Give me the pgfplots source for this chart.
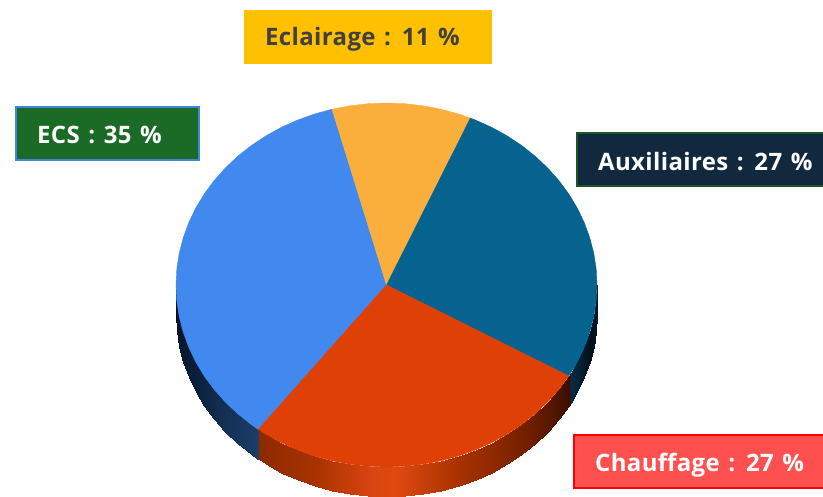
\documentclass[border=0pt]{standalone}
\usepackage{fontspec}
\setmainfont{Open Sans}[LetterSpace=1.5, WordSpace=1.3]
\usepackage{pgfplots}
\pgfplotsset{compat=1.18}
\definecolor{ecsc}{HTML}{4189EE}
\definecolor{eclc}{HTML}{FAAE3C}
\definecolor{auxc}{HTML}{06638F}
\definecolor{chac}{HTML}{DF4006}
\begin{document}
\begin{tikzpicture}
\begin{axis}[
    name=pie,
    width=823bp, height=497bp, scale only axis,
    xmin=0, xmax=823, ymin=0, ymax=497,
    y dir=reverse,
    hide axis,
    point meta min=180, point meta max=360,
    colormap={pieside}{
        rgb255(180)=(4,16,31) rgb255(205)=(10,31,61) rgb255(232)=(27,61,104)
        rgb255(233)=(140,42,0) rgb255(250)=(168,50,0) rgb255(266)=(216,69,16)
        rgb255(272)=(224,74,16) rgb255(290)=(168,50,0) rgb255(315)=(106,28,0)
        rgb255(330)=(58,14,0) rgb255(331)=(10,42,68) rgb255(345)=(3,16,30)
        rgb255(360)=(10,26,44)
    },
]
% side of the disc
\addplot[surf, shader=interp, mesh/rows=2, point meta=explicit] table[x=x, y=y, meta=t] {
t x y
180 176 285
185 176.8 300.9
190 179.2 316.6
195 183.2 332.1
200 188.7 347.2
205 195.7 361.9
210 204.2 376
215 214.1 389.4
220 225.3 402
225 237.7 413.7
230 251.2 424.4
232 257 429
233 259.5 430
235 265.8 434.1
240 281.2 442.6
245 297.5 449.9
250 314.5 456
255 332 460.8
260 349.9 464.2
265 368.1 466.3
270 386.5 467
275 404.9 466.3
280 423.1 464.2
285 441 460.8
290 458.5 456
295 475.5 449.9
300 491.8 442.6
305 507.2 434.1
310 521.8 424.4
315 535.3 413.7
320 547.7 402
325 558.9 389.4
330 568.8 376
331 570.5 373
335 577.3 361.9
340 584.3 347.2
345 589.8 332.1
350 593.8 316.6
355 596.2 300.9
360 597 285
180 176 315
185 176.8 330.9
190 179.2 346.6
195 183.2 362.1
200 188.7 377.2
205 195.7 391.9
210 204.2 406
215 214.1 419.4
220 225.3 432
225 237.7 443.7
230 251.2 454.4
232 257 459
233 259.5 460
235 265.8 464.1
240 281.2 472.6
245 297.5 479.9
250 314.5 486
255 332 490.8
260 349.9 494.2
265 368.1 496.3
270 386.5 497
275 404.9 496.3
280 423.1 494.2
285 441 490.8
290 458.5 486
295 475.5 479.9
300 491.8 472.6
305 507.2 464.1
310 521.8 454.4
315 535.3 443.7
320 547.7 432
325 558.9 419.4
330 568.8 406
331 570.5 403
335 577.3 391.9
340 584.3 377.2
345 589.8 362.1
350 593.8 346.6
355 596.2 330.9
360 597 315
};
% top wedges
\addplot[fill=ecsc, draw=ecsc, line width=0.4pt] coordinates {
(386.5,285) (332,109.2) (314.5,114) (297.5,120.1) (281.2,127.4) (265.8,135.9) (251.2,145.6)
(237.7,156.3) (225.3,168) (214.1,180.6) (204.2,194) (195.7,208.1) (188.7,222.8) (183.2,237.9)
(179.2,253.4) (176.8,269.1) (176,285) (176.8,300.9) (179.2,316.6) (183.2,332.1) (188.7,347.2)
(195.7,361.9) (204.2,376) (214.1,389.4) (225.3,402) (237.7,413.7) (251.2,424.4) (258.3,429.4)
} --cycle;
\addplot[fill=eclc, draw=eclc, line width=0.4pt] coordinates {
(386.5,285) (470.4,118.1) (458.5,114) (441,109.2) (423.1,105.8) (404.9,103.7) (386.5,103)
(368.1,103.7) (349.9,105.8) (332,109.2)
} --cycle;
\addplot[fill=auxc, draw=auxc, line width=0.4pt] coordinates {
(386.5,285) (568.8,376) (577.3,361.9) (584.3,347.2) (589.8,332.1) (593.8,316.6) (596.2,300.9)
(597,285) (596.2,269.1) (593.8,253.4) (589.8,237.9) (584.3,222.8) (577.3,208.1) (568.8,194)
(558.9,180.6) (547.7,168) (535.3,156.3) (521.8,145.6) (507.2,135.9) (491.8,127.4) (475.5,120.1)
(470.4,118.1)
} --cycle;
\addplot[fill=chac, draw=chac, line width=0.4pt] coordinates {
(386.5,285) (258.3,429.4) (265.8,434.1) (281.2,442.6) (297.5,449.9) (314.5,456) (332,460.8)
(349.9,464.2) (368.1,466.3) (386.5,467) (404.9,466.3) (423.1,464.2) (441,460.8) (458.5,456)
(475.5,449.9) (491.8,442.6) (507.2,434.1) (521.8,424.4) (535.3,413.7) (547.7,402) (558.9,389.4)
(568.8,376)
} --cycle;
% label boxes
\addplot[fill={rgb,255:red,255;green,192;blue,0}, draw=none] coordinates {(244,10) (492,10) (492,64) (244,64)} --cycle;
\addplot[fill={rgb,255:red,27;green,107;blue,38}, draw={rgb,255:red,63;green,134;blue,220}, line width=1.5bp] coordinates {(16,107) (199,107) (199,160) (16,160)} --cycle;
\addplot[fill={rgb,255:red,18;green,40;blue,63}, draw={rgb,255:red,30;green,85;blue,40}, line width=1.5bp] coordinates {(577,133) (830,133) (830,186) (577,186)} --cycle;
\addplot[fill={rgb,255:red,255;green,80;blue,80}, draw={rgb,255:red,255;green,0;blue,0}, line width=1.5bp] coordinates {(574,435) (830,435) (830,488) (574,488)} --cycle;
\node[anchor=base west, inner sep=0pt, text={rgb,255:red,64;green,64;blue,64}, font=\fontsize{24bp}{28bp}\selectfont\bfseries] at (axis cs:265,46) {Eclairage : 11 \%};
\node[anchor=base west, inner sep=0pt, text=white, font=\fontsize{24bp}{28bp}\selectfont\bfseries] at (axis cs:37,143) {ECS : 35 \%};
\node[anchor=base west, inner sep=0pt, text=white, font=\fontsize{24bp}{28bp}\selectfont\bfseries] at (axis cs:598,170) {Auxiliaires : 27 \%};
\node[anchor=base west, inner sep=0pt, text=white, font=\fontsize{24bp}{28bp}\selectfont\bfseries] at (axis cs:595,471) {Chauffage : 27 \%};
\end{axis}
\pgfresetboundingbox
\useasboundingbox (pie.south west) rectangle (pie.north east);
\end{tikzpicture}
\end{document}
